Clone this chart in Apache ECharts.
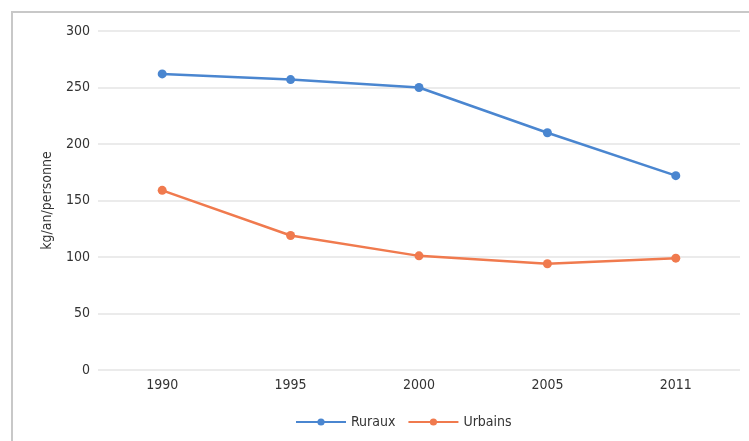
<!DOCTYPE html>
<html>
<head>
<meta charset="utf-8">
<script src="https://cdn.jsdelivr.net/npm/echarts@6/dist/echarts.min.js"></script>
<style>
  html, body { margin: 0; padding: 0; background: #fff; }
  #chart { width: 749px; height: 441px; }
</style>
</head>
<body>
<div id="chart"></div>
<script>
// Household food waste, kg per person per year
const years = ['1990', '1995', '2000', '2005', '2011'];
const ruraux = [262, 257, 250, 210, 172];
const urbains = [159, 119, 101, 94, 99];
const yTicks = [0, 50, 100, 150, 200, 250, 300];

const FONT = '"DejaVu Sans Condensed", "Liberation Sans Narrow", sans-serif';
const BLUE = '#4a86d0';
const ORANGE = '#f07a4e';
const TEXT = '#333333';

const chart = echarts.init(document.getElementById('chart'));
chart.setOption({
  animation: false,
  textStyle: { fontFamily: FONT },
  graphic: [{
    type: 'rect',
    shape: { x: 12, y: 12, width: 800, height: 500 },
    style: { fill: 'none', stroke: '#c8c8c8', lineWidth: 2 },
    silent: true
  }],
  grid: { left: 98, right: 9, top: 31, bottom: 71 },
  legend: {
    top: 410,
    left: 290,
    itemWidth: 50,
    itemHeight: 9,
    itemGap: 12,
    textStyle: { fontFamily: FONT, fontSize: 14, color: TEXT },
    data: ['Ruraux', 'Urbains']
  },
  xAxis: {
    type: 'category',
    data: years,
    boundaryGap: true,
    axisLine: { show: false },
    axisTick: { show: false },
    axisLabel: { color: TEXT, fontSize: 14, margin: 8, fontFamily: FONT }
  },
  yAxis: {
    type: 'value',
    min: yTicks[0],
    max: yTicks[yTicks.length - 1],
    interval: 50,
    name: 'kg/an/personne',
    nameLocation: 'middle',
    nameGap: 44,
    nameTextStyle: { color: TEXT, fontSize: 14, fontFamily: FONT },
    axisLine: { show: false },
    axisTick: { show: false },
    axisLabel: { color: TEXT, fontSize: 14, margin: 8, fontFamily: FONT },
    splitLine: { lineStyle: { color: '#e4e4e4', width: 1.5 } }
  },
  series: [
    {
      name: 'Ruraux',
      type: 'line',
      data: ruraux,
      symbol: 'circle',
      symbolSize: 9,
      lineStyle: { color: BLUE, width: 2.5 },
      itemStyle: { color: BLUE }
    },
    {
      name: 'Urbains',
      type: 'line',
      data: urbains,
      symbol: 'circle',
      symbolSize: 9,
      lineStyle: { color: ORANGE, width: 2.5 },
      itemStyle: { color: ORANGE }
    }
  ]
});
</script>
</body>
</html>
